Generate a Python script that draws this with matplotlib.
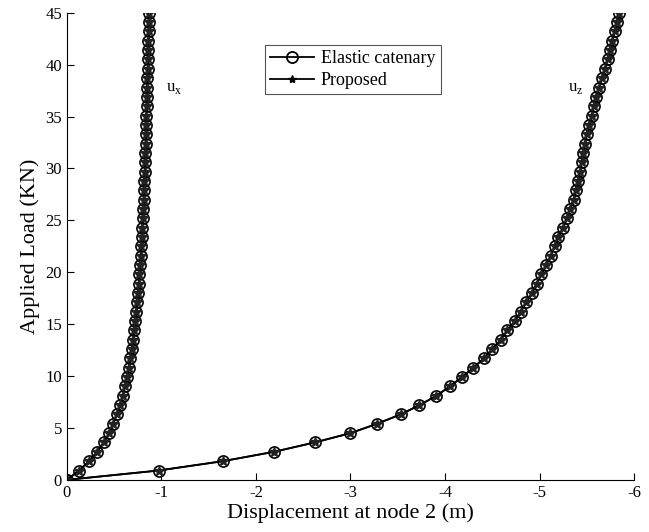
import matplotlib
matplotlib.use('Agg')
import matplotlib.pyplot as plt
import numpy as np

plt.rcParams['font.family'] = ['Liberation Serif', 'DejaVu Serif']
plt.rcParams['mathtext.fontset'] = 'custom'
plt.rcParams['mathtext.rm'] = 'Liberation Serif'
plt.rcParams['axes.unicode_minus'] = False

# load steps (KN)
load = [0.0, 0.9, 1.8, 2.7, 3.6, 4.5, 5.4, 6.3, 7.2, 8.1, 9.0, 9.9, 10.8, 11.7,
        12.6, 13.5, 14.4, 15.3, 16.2, 17.1, 18.0, 18.9, 19.8, 20.7, 21.6, 22.5,
        23.4, 24.3, 25.2, 26.1, 27.0, 27.9, 28.8, 29.7, 30.6, 31.5, 32.4, 33.3,
        34.2, 35.1, 36.0, 36.9, 37.8, 38.7, 39.6, 40.5, 41.4, 42.3, 43.2, 44.1, 45.0]

# horizontal displacement u_x (m)
ux = [0.0, -0.13, -0.235, -0.32, -0.39, -0.45, -0.49, -0.53, -0.565, -0.59,
      -0.615, -0.635, -0.655, -0.67, -0.685, -0.70, -0.712, -0.723, -0.735,
      -0.745, -0.753, -0.761, -0.768, -0.775, -0.781, -0.787, -0.793, -0.799,
      -0.804, -0.808, -0.812, -0.816, -0.82, -0.824, -0.827, -0.83, -0.833,
      -0.836, -0.839, -0.842, -0.845, -0.848, -0.851, -0.853, -0.856, -0.858,
      -0.861, -0.863, -0.866, -0.868, -0.87]

# vertical displacement u_z (m)
uz = [0.0, -0.97, -1.65, -2.19, -2.62, -3.0, -3.28, -3.53, -3.73, -3.91, -4.05,
      -4.18, -4.30, -4.41, -4.50, -4.59, -4.66, -4.74, -4.80, -4.86, -4.92,
      -4.97, -5.02, -5.07, -5.12, -5.16, -5.20, -5.25, -5.29, -5.32, -5.36,
      -5.39, -5.41, -5.43, -5.445, -5.46, -5.48, -5.50, -5.525, -5.55, -5.575,
      -5.60, -5.63, -5.66, -5.69, -5.72, -5.745, -5.77, -5.795, -5.82, -5.845]

fig = plt.figure(figsize=(6.49, 5.32), dpi=100)
ax = fig.add_axes([0.103, 0.098, 0.874, 0.878])

# elastic catenary: open circles, proposed: stars
for u in (ux, uz):
    ax.plot(u, load, '-', color='black', lw=1.3, marker='o', ms=8,
            mfc='none', mec='black', mew=1.2)
    ax.plot(u, load, '-', color='black', lw=1.3, marker='*', ms=7,
            mfc='#222222', mec='#222222')

# legend handles
ax.plot([], [], '-', color='black', lw=1.3, marker='o', ms=8, mfc='none',
        mec='black', mew=1.3, label='Elastic catenary')
ax.plot([], [], '-', color='black', lw=1.3, marker='*', ms=6, mfc='black',
        mec='black', label='Proposed')

ax.text(-1.05, 37.5, r'u$_{\rm x}$', fontsize=12)
ax.text(-5.3, 37.5, r'u$_{\rm z}$', fontsize=12)

ax.set_xlim(0, -6)
ax.set_ylim(0, 45)
ax.set_xticks(np.arange(0, -7, -1))
ax.set_yticks(np.arange(0, 46, 5))
ax.tick_params(direction='in', length=5, labelsize=12)
ax.spines['top'].set_visible(False)
ax.spines['right'].set_visible(False)
ax.set_xlabel('Displacement at node 2 (m)', fontsize=16, labelpad=2)
ax.set_ylabel('Applied Load (KN)', fontsize=16, labelpad=4)

leg = ax.legend(loc='upper left', bbox_to_anchor=(0.349, 0.931), fontsize=13,
                fancybox=False, edgecolor='#555555', framealpha=1,
                handlelength=2.4, handletextpad=0.4, borderpad=0.3,
                labelspacing=0.25, borderaxespad=0)
leg.get_frame().set_linewidth(0.8)

fig.savefig('out.png', dpi=100)
